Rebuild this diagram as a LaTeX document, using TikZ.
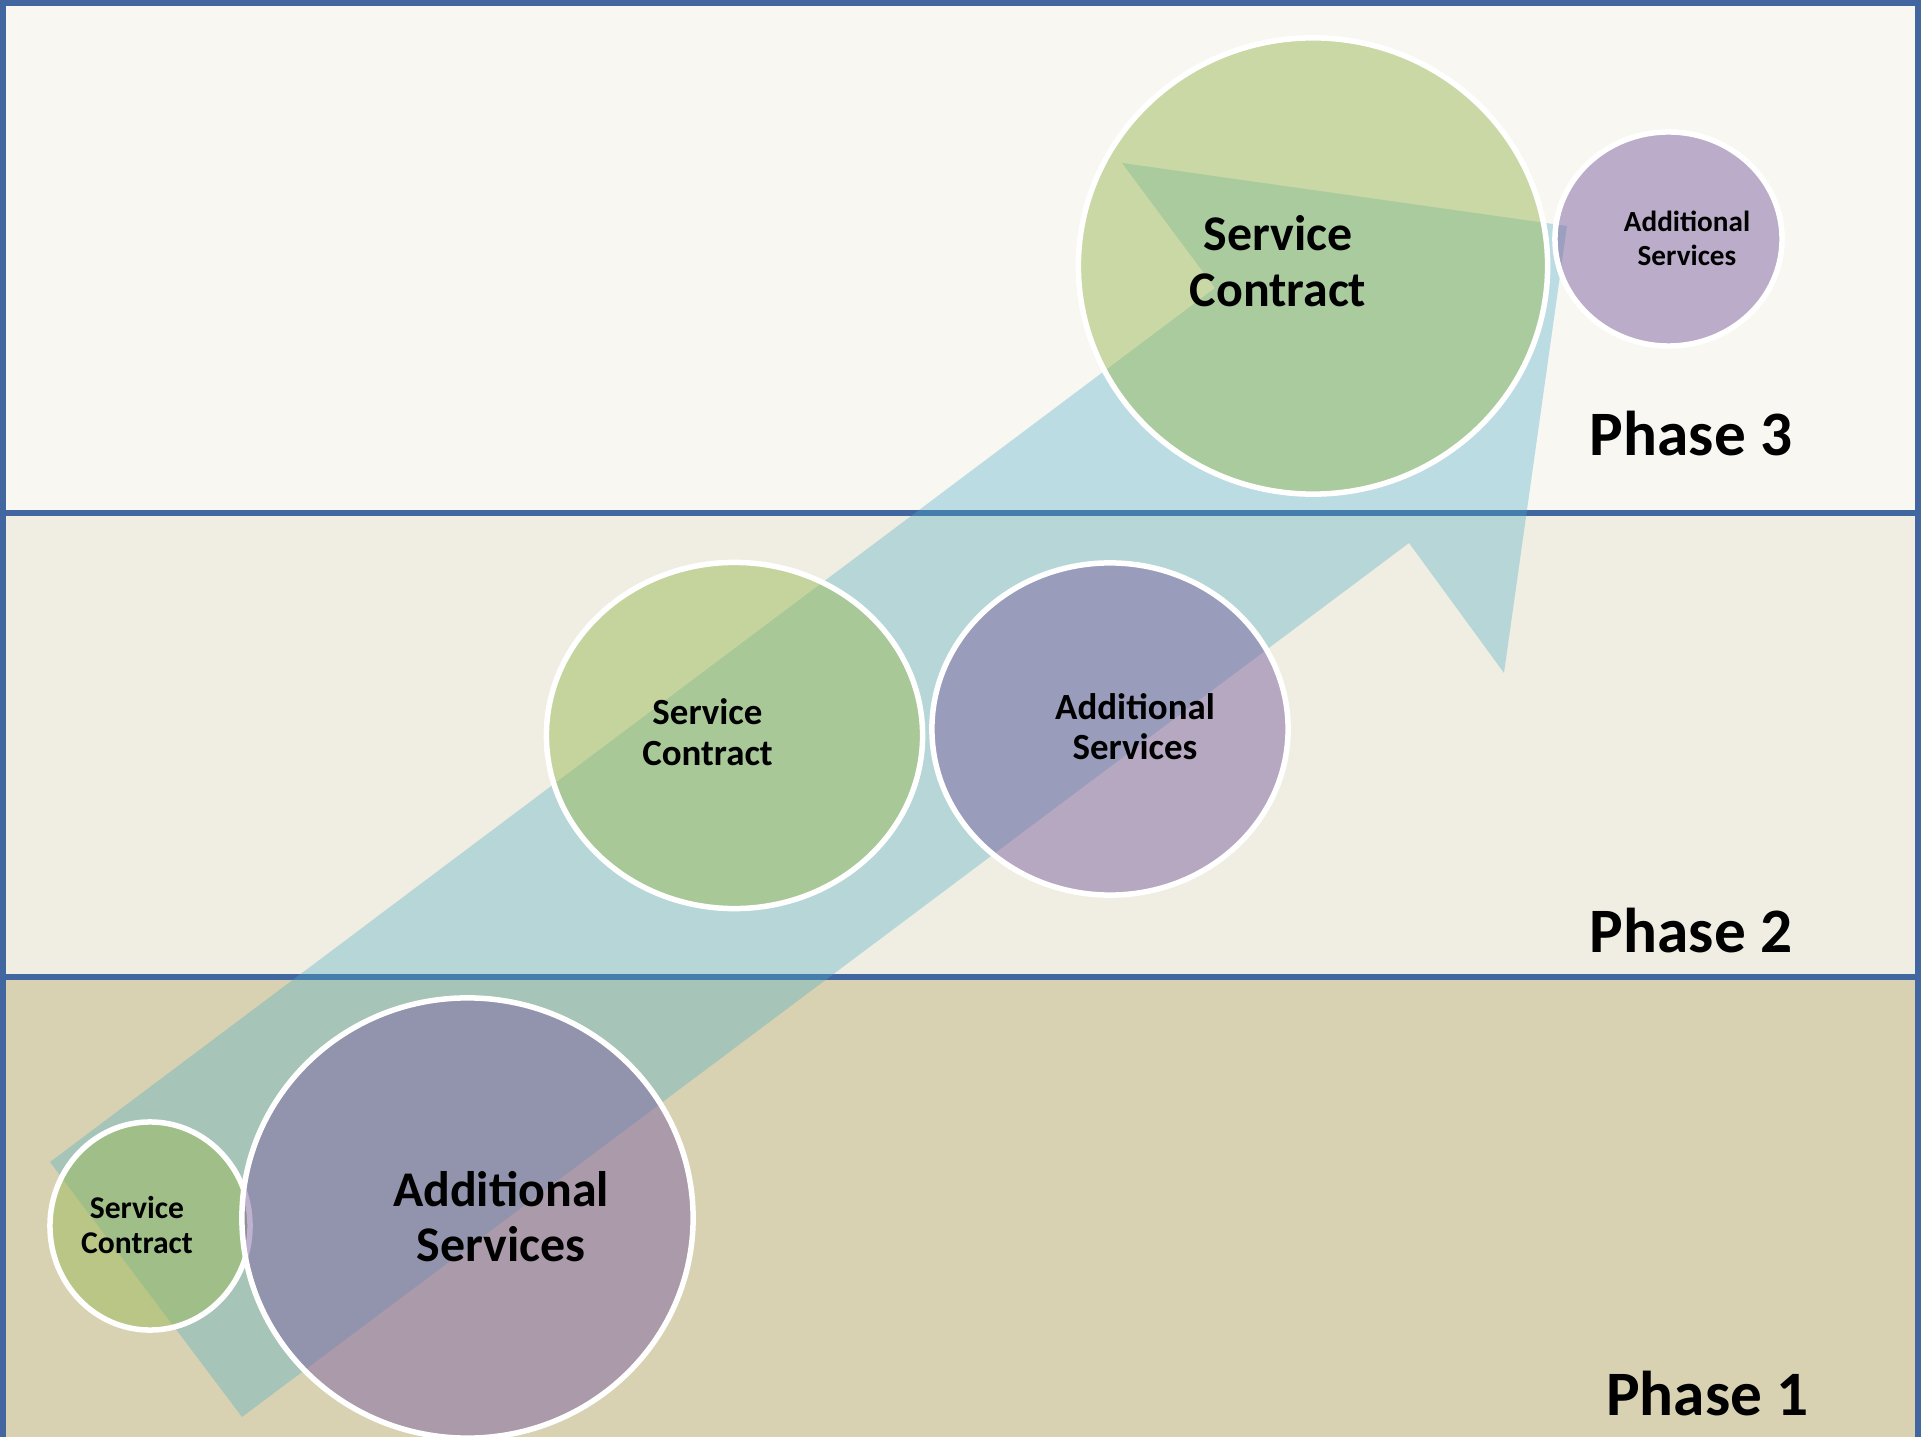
\documentclass[tikz,border=0pt]{standalone}
\usepackage{fontspec}
\setmainfont{Carlito}
\usetikzlibrary{shapes.geometric}
\definecolor{framec}{HTML}{4266A0}
\definecolor{bandtop}{HTML}{F8F7F2}
\definecolor{bandmid}{HTML}{F0EEE3}
\definecolor{bandlow}{HTML}{D8D2B2}
\definecolor{arrowc}{HTML}{4BACC6}
\definecolor{greenc}{HTML}{9BBB59}
\definecolor{purplec}{HTML}{8064A2}
\begin{document}
\begin{tikzpicture}[x=0.01cm,y=-0.01cm,
  rule/.style={draw=framec, line width=0.06cm},
  bubble/.style={ellipse, draw=white, line width=0.055cm, fill opacity=0.5, draw opacity=1, inner sep=0pt, outer sep=0pt},
  greenbubble/.style={bubble, fill=greenc},
  purplebubble/.style={bubble, fill=purplec},
  phaselabel/.style={font=\fontsize{18}{21}\selectfont\bfseries, anchor=base, inner sep=0pt},
  txtbig/.style={font=\fontsize{14.2}{15.9}\selectfont\bfseries, anchor=base, inner sep=0pt},
  txtmid/.style={font=\fontsize{10.5}{11.6}\selectfont\bfseries, anchor=base, inner sep=0pt},
  txtsmall/.style={font=\fontsize{9}{10.1}\selectfont\bfseries, anchor=base, inner sep=0pt},
  txttiny/.style={font=\fontsize{8.3}{9.4}\selectfont\bfseries, anchor=base, inner sep=0pt},
  arrowfill/.style={fill=arrowc, fill opacity=0.35}
]
\useasboundingbox (0,0) rectangle (1921,1437);
\fill[white] (0,0) rectangle (1921,1437);
% bands
\fill[bandtop] (3,3) rectangle (1918,513);
\fill[bandmid] (3,513) rectangle (1918,977);
\fill[bandlow] (3,977) rectangle (1918,1437);
% frame and separators
\draw[rule] (3,1440) -- (3,3) -- (1918,3) -- (1918,1440);
\draw[rule] (3,513) -- (1918,513);
\draw[rule] (3,977) -- (1918,977);
% arrow
\coordinate (t1) at (50,1162);
\coordinate (uc) at (1215,288);
\coordinate (b1) at (1122,163);
\coordinate (tip) at (1567,226);
\coordinate (b2) at (1504,673);
\coordinate (lc) at (1409,543);
\coordinate (t2) at (242,1417);
\fill[arrowfill] (t1) -- (uc) -- (b1) -- (tip) -- (b2) -- (lc) -- (t2) -- cycle;
% bubbles
\node[greenbubble, minimum width=4.69cm, minimum height=4.56cm] (sc3) at (1313,266) {};
\node[purplebubble, minimum width=2.27cm, minimum height=2.14cm] (as3) at (1668.5,239) {};
\node[greenbubble, minimum width=3.76cm, minimum height=3.46cm] (sc2) at (734.5,735.5) {};
\node[purplebubble, minimum width=3.56cm, minimum height=3.32cm] (as2) at (1110,729) {};
\node[greenbubble, minimum width=2.00cm, minimum height=2.08cm] (sc1) at (150,1226) {};
\node[purplebubble, minimum width=4.51cm, minimum height=4.40cm] (as1) at (467.5,1218) {};
% texts
\node[txtbig] (sc3t) at (1278,251) {\begin{tabular}[t]{@{}c@{}}Service\\Contract\end{tabular}};
\node[txttiny] (as3t) at (1687,232) {\begin{tabular}[t]{@{}c@{}}Additional\\Services\end{tabular}};
\node[txtmid] (sc2t) at (707.5,725) {\begin{tabular}[t]{@{}c@{}}Service\\Contract\end{tabular}};
\node[txtmid] (as2t) at (1135,719) {\begin{tabular}[t]{@{}c@{}}Additional\\Services\end{tabular}};
\node[txtsmall] (sc1t) at (137,1218) {\begin{tabular}[t]{@{}c@{}}Service\\Contract\end{tabular}};
\node[txtbig] (as1t) at (501,1206) {\begin{tabular}[t]{@{}c@{}}Additional\\Services\end{tabular}};
% phase labels
\node[phaselabel] (p3) at (1691,456) {Phase 3};
\node[phaselabel] (p2) at (1691,952) {Phase 2};
\node[phaselabel] (p1) at (1707.5,1415) {Phase 1};
\end{tikzpicture}
\end{document}
